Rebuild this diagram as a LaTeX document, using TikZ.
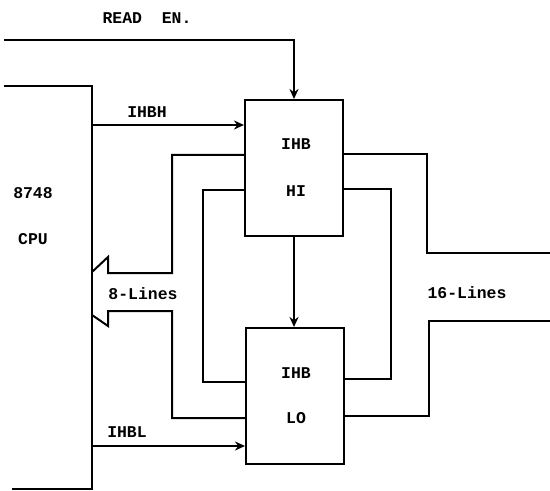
\documentclass[tikz,border=0pt]{standalone}
\usepackage{fontspec}
\setmonofont{Liberation Mono}
\usetikzlibrary{arrows.meta}
\begin{document}
\begin{tikzpicture}[x=1bp,y=-1bp,
  wire/.style={line width=2bp,line join=miter},
  arr/.style={wire,-{Stealth[length=10bp,width=9bp]}},
  blk/.style={draw,line width=2bp,rectangle,minimum height=136bp,inner sep=0pt},
  lbl/.style={font=\ttfamily\bfseries\fontsize{16.5}{16.5}\selectfont,inner sep=0pt}]
\useasboundingbox (0,0) rectangle (550,491);
% CPU (open on the left)
\coordinate (cpuTL) at (4,86);
\coordinate (cpuTR) at (92,86);
\coordinate (cpuBR) at (92,489);
\coordinate (cpuBL) at (12,489);
\draw[wire] (cpuTL) -- (cpuTR) -- (cpuBR) -- (cpuBL);
\node[lbl] (n8748) at (33,193) {8748};
\node[lbl] (ncpu) at (33,239) {CPU};
% blocks
\node[blk,minimum width=98bp] (hi) at (294,168) {};
\node[lbl] (hi1) at (296,144) {IHB};
\node[lbl] (hi2) at (296,191) {HI};
\node[blk,minimum width=98bp] (lo) at (295,396) {};
\node[lbl] (lo1) at (296,373) {IHB};
\node[lbl] (lo2) at (296,418) {LO};
% READ EN.
\coordinate (re) at (4,40);
\node[lbl] (rel) at (147,18) {READ\ \ EN.};
\draw[arr] (re) -| (hi.north);
% IHBH / IHBL
\coordinate (cpuH) at (92,125);
\coordinate (cpuL) at (92,446);
\draw[arr] (cpuH) -- (cpuH -| hi.west);
\node[lbl] (ihbh) at (147,112) {IHBH};
\draw[arr] (cpuL) -- (cpuL -| lo.west);
\node[lbl] (ihbl) at (127,432) {IHBL};
% HI -> LO
\draw[arr] (hi.south) -- (hi.south |- lo.north);
% 8-line bus (hollow arrow into CPU)
\coordinate (b1) at (172,155);
\coordinate (b2) at (172,273);
\coordinate (b3) at (108,273);
\coordinate (b4) at (108,257);
\coordinate (b5) at (92,272);
\coordinate (b6) at (92,315);
\coordinate (b7) at (108,326);
\coordinate (b8) at (108,311);
\coordinate (b9) at (172,311);
\coordinate (b10) at (172,418);
\draw[wire] (b1 -| hi.west) -- (b1) -- (b2) -- (b3) -- (b4) -- (b5);
\draw[wire] (b6) -- (b7) -- (b8) -- (b9) -- (b10) -- (b10 -| lo.west);
\coordinate (c1) at (203,190);
\coordinate (c2) at (203,382);
\draw[wire] (c1 -| hi.west) -- (c1) -- (c2) -- (c2 -| lo.west);
\node[lbl] (l8) at (143,294) {8-Lines};
% 16-line bus
\coordinate (d1) at (427,154);
\coordinate (d2) at (427,253);
\coordinate (d3) at (550,253);
\draw[wire] (d1 -| hi.east) -- (d1) -- (d2) -- (d3);
\coordinate (e1) at (391,189);
\coordinate (e2) at (391,379);
\draw[wire] (e1 -| hi.east) -- (e1) -- (e2) -- (e2 -| lo.east);
\coordinate (f1) at (429,416);
\coordinate (f2) at (429,321);
\coordinate (f3) at (550,321);
\draw[wire] (f1 -| lo.east) -- (f1) -- (f2) -- (f3);
\node[lbl] (l16) at (467,293) {16-Lines};
\end{tikzpicture}
\end{document}
